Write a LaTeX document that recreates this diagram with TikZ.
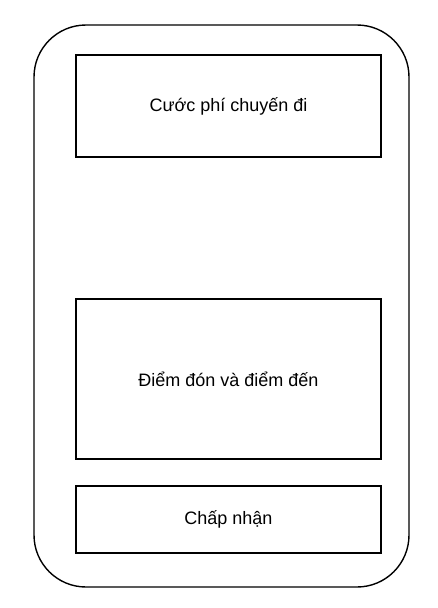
\documentclass[tikz,border=0pt]{standalone}
\usepackage{fontspec}
\setmainfont{Liberation Sans}
\begin{document}
\begin{tikzpicture}[x=1pt,y=-1pt,
  panel/.style={draw=black,line width=1.4pt,rounded corners=52pt},
  field/.style={draw=black,line width=1.3pt,inner sep=0pt,font=\fontsize{18}{21}\selectfont},
]
\useasboundingbox (0,0) rectangle (438,608);
% phone frame
\draw[panel] (34,25) rectangle (409,587);
% screen sections
\node[field,minimum width=305pt,minimum height=102pt] (fare) at (228.5,106) {Cước phí chuyến đi};
\node[field,minimum width=305pt,minimum height=160pt] (route) at (228.5,379) {Điểm đón và điểm đến};
\node[field,minimum width=305pt,minimum height=67pt] (accept) at (228.5,519.5) {Chấp nhận};
\end{tikzpicture}
\end{document}
